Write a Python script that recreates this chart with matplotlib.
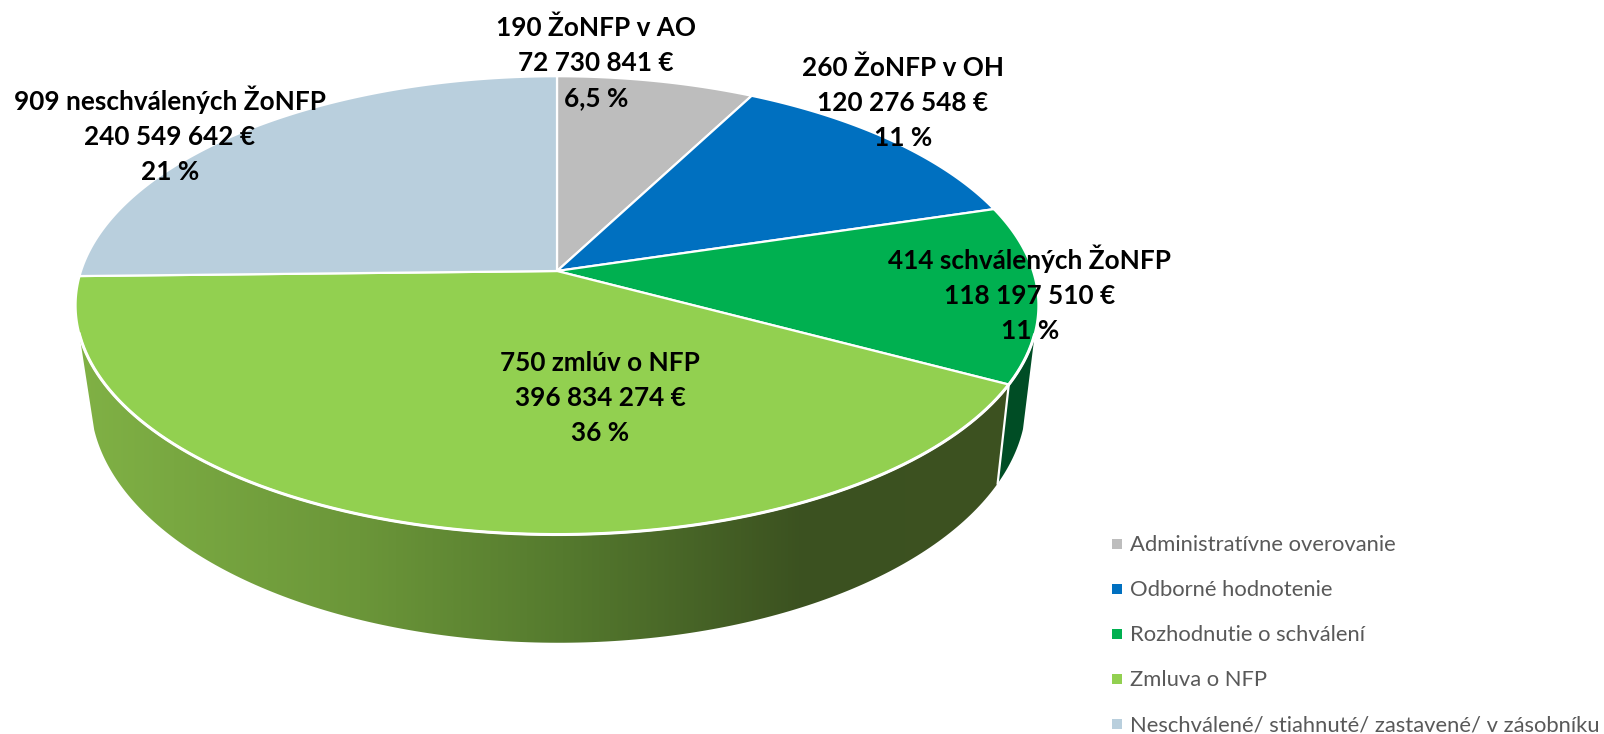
import numpy as np
import matplotlib
matplotlib.use("Agg")
import matplotlib.pyplot as plt
from matplotlib.patches import Polygon
from matplotlib.colors import LinearSegmentedColormap

plt.rcParams['font.family'] = ['Lato', 'DejaVu Sans']

# values in EUR, clockwise from 12 o'clock
categories = ["Administratívne overovanie", "Odborné hodnotenie", "Rozhodnutie o schválení",
              "Zmluva o NFP", "Neschválené/ stiahnuté/ zastavené/ v zásobníku"]
values = [72730841, 120276548, 118197510, 396834274, 240549642]
labels = ["190 ŽoNFP v AO\n72 730 841 €\n6,5 %",
          "260 ŽoNFP v OH\n120 276 548 €\n11 %",
          "414 schválených ŽoNFP\n118 197 510 €\n11 %",
          "750 zmlúv o NFP\n396 834 274 €\n36 %",
          "909 neschválených ŽoNFP\n240 549 642 €\n21 %"]
colors = ["#BDBDBD", "#0070C0", "#00B050", "#92D050", "#B9CFDD"]
label_x = [596, 903, 1030, 600, 170]
label_y = [63, 103, 294, 398, 135]

# perspective of the disc, in pixels
CX, CY = 557, 271
RX, RY = 476, 224
K = 0.15
DEPTH = 92
SHRINK = 0.972
SIDE_LIMIT = 62   # side wall starts this far below the centre


def project(theta, r=1.0):
    u, v = r * np.sin(theta), r * np.cos(theta)
    w = 1 + K * v
    return CX + RX * u / w, CY - RY * v / w


def project_low(theta):
    x, y = project(theta)
    return CX + 1.5 + (x - CX) * SHRINK, y + DEPTH / (1 + K * np.cos(theta))


fig = plt.figure(figsize=(16.04, 7.34), dpi=100)
ax = fig.add_axes([0, 0, 1, 1])
ax.set_xlim(0, 1604)
ax.set_ylim(734, 0)
ax.axis("off")

edges = np.cumsum([0] + values) / sum(values) * 2 * np.pi


def side_polygon(a, b):
    t = np.linspace(a, b, 200)
    x1, y1 = project(t)
    keep = y1 - CY >= SIDE_LIMIT
    t = t[keep]
    x1, y1 = x1[keep], y1[keep]
    x2, y2 = project_low(t)
    return np.column_stack([np.r_[x1, x2[::-1]], np.r_[y1, y2[::-1]]])


# side walls
dark_green = side_polygon(edges[2], edges[3])
ax.add_patch(Polygon(dark_green, closed=True, fc="#004D25", ec="none", zorder=1))

lime = side_polygon(edges[3], edges[4])
side = Polygon(lime, closed=True, fc="none", ec="none", zorder=2)
ax.add_patch(side)
cmap = LinearSegmentedColormap.from_list(
    "side", [(0, "#80B145"), (0.3, "#6B9639"), (0.52, "#557A2E"), (0.78, "#3B5120"), (1, "#3D5221")])
grad = ax.imshow(np.linspace(0, 1, 512).reshape(1, -1), cmap=cmap, aspect="auto",
                 extent=(80, 1010, 660, 300), zorder=2)
grad.set_clip_path(side)
ax.set_xlim(0, 1604)
ax.set_ylim(734, 0)

# white line where the two walls meet
x1, y1 = project(edges[3])
x2, y2 = project_low(edges[3])
ax.plot([x1, x2], [y1, y2], color="white", lw=1.6, zorder=3)

# top of the disc
for i in range(len(values)):
    t = np.linspace(edges[i], edges[i + 1], 200)
    x, y = project(t)
    pts = np.column_stack([np.r_[CX, x], np.r_[CY, y]])
    ax.add_patch(Polygon(pts, closed=True, fc=colors[i], ec="white", lw=1.6,
                         joinstyle="round", zorder=4))

# rim is a bit heavier over the side wall
t = np.linspace(edges[2], edges[4], 300)
x, y = project(t)
keep = y - CY >= SIDE_LIMIT
ax.plot(x[keep], y[keep], color="white", lw=2.2, zorder=5)

for lx, ly, txt in zip(label_x, label_y, labels):
    ax.text(lx, ly, txt, ha="center", va="center", fontsize=18.8, fontweight="bold",
            color="black", linespacing=1.56, zorder=6)

# legend
legend_y = [545, 590, 635, 680, 725]
for name, c, ly in zip(categories, colors, legend_y):
    ax.scatter([1117], [ly - 1], marker="s", s=50, color=c, linewidths=0, zorder=6)
    ax.text(1130, ly, name, ha="left", va="center", fontsize=15.8, color="#595959", zorder=6)

fig.savefig("out.png", dpi=100)
